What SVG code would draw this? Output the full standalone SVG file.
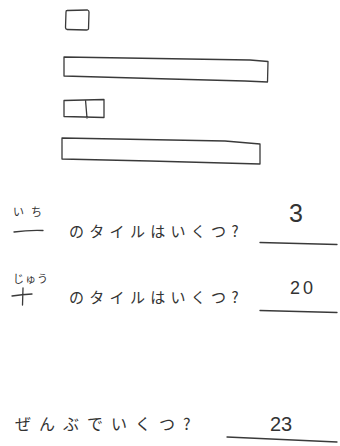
<svg xmlns="http://www.w3.org/2000/svg" width="340" height="446" viewBox="0 0 340 446">
<style>
.ln{fill:none;stroke:#3a3a3a;stroke-width:1.3;stroke-linecap:round;stroke-linejoin:round}
.t{font-family:"Noto Sans CJK JP","Noto Sans",sans-serif;fill:#333}
.q{font-size:15px;letter-spacing:5.3px}
.r{font-size:11px}
.n{font-family:"Liberation Sans",Arial,sans-serif;fill:#333}
</style>
<rect width="340" height="446" fill="#fff"/>
<g id="tile-one">
<path class="ln" d="M67,10.5 L87.5,10 Q89,10.5 89,12 L88.5,29 Q88,30 86.5,30 L67,29.5 Q65.5,29 65.5,27.5 L66,12 Q66,10.5 67,10.5 Z"/>
</g>
<g id="bar-one">
<path class="ln" d="M64,57 L250,60 L268,61.5 L267.5,82 L245,81 L170,79 L64,76 Z"/>
</g>
<g id="tile-two">
<path class="ln" d="M64,100.5 L104,99.5 L104,117.5 L64,116.5 Z M85.5,100 L87,118"/>
</g>
<g id="bar-two">
<path class="ln" d="M62,138 L225,141 L260,144 L260,164 L150,161 L62,159 Z"/>
</g>
<g id="q1">
<text class="t r" x="13" y="216" style="letter-spacing:7px">いち</text>
<path class="ln" d="M14,232 Q28,230 43,230.5"/>
<text class="t q" x="69" y="237">のタイルはいくつ?</text>
<text class="n" x="289" y="222" style="font-size:25px">3</text>
<path class="ln" d="M260,242.5 L337,244.5"/>
</g>
<g id="q2">
<text class="t r" x="13" y="283" style="letter-spacing:1px">じゅう</text>
<path class="ln" d="M12,296 Q22,294.5 32,294 M23,288 L22.5,305"/>
<text class="t q" x="69" y="303">のタイルはいくつ?</text>
<text class="n" x="290" y="294" style="font-size:18px;letter-spacing:3px">20</text>
<path class="ln" d="M260,310.5 L337,312.5"/>
</g>
<g id="q3">
<text class="t" x="15" y="430" style="font-size:16px;letter-spacing:8px">ぜんぶでいくつ?</text>
<text class="n" x="270" y="431" style="font-size:20px">23</text>
<path class="ln" d="M227,437 L337,442"/>
</g>
</svg>
